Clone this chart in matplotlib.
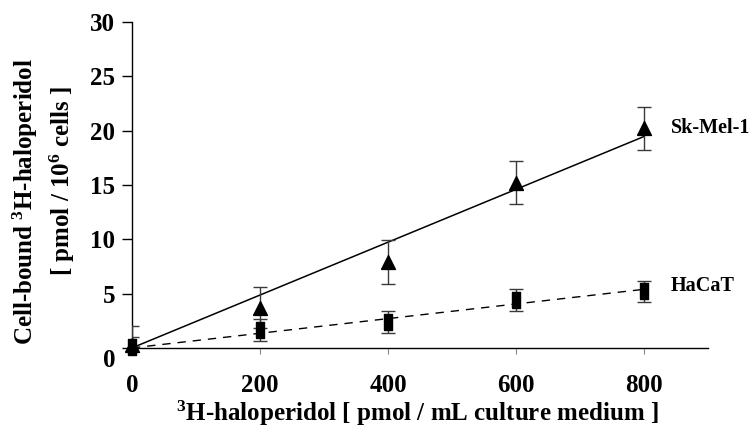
import numpy as np
import matplotlib
matplotlib.use("Agg")
import matplotlib.pyplot as plt
import matplotlib.transforms as mtransforms

# ---- data ----
conc = [0, 200, 400, 600, 800]
skmel_mean = [0.3, 3.7, 7.9, 15.2, 20.2]
skmel_err = [1.7, 1.9, 2.0, 2.0, 2.0]
hacat_mean = [0.1, 1.65, 2.4, 4.4, 5.2]
hacat_err = [0.9, 1.0, 1.0, 1.0, 1.0]
xticks = [0, 200, 400, 600, 800]
yticks = [0, 5, 10, 15, 20, 25, 30]
series_names = ["Sk-Mel-1", "HaCaT"]

plt.rcParams['font.family'] = ['Liberation Serif', 'DejaVu Serif']
plt.rcParams['font.weight'] = 'bold'
plt.rcParams['mathtext.fontset'] = 'custom'
plt.rcParams['mathtext.rm'] = 'Liberation Serif:bold'
plt.rcParams['mathtext.bf'] = 'Liberation Serif:bold'
plt.rcParams['mathtext.it'] = 'Liberation Serif:bold'

fig = plt.figure(figsize=(7.54, 4.29), dpi=100)
ax = fig.add_axes([0.175, 0.189, 0.764, 0.760])

x = np.array(conc, dtype=float)

def origin_fit(xv, yv):
    xv = np.asarray(xv, float); yv = np.asarray(yv, float)
    return (xv * yv).sum() / (xv * xv).sum()

s1 = origin_fit(conc, skmel_mean)
s2 = origin_fit(conc, hacat_mean)
xl = np.array([0, 800.0])
ax.plot(xl, s1 * xl, color='black', lw=1.1, zorder=2)
ax.plot(xl, s2 * xl, color='black', lw=1.0, ls=(0, (6, 5)), zorder=2)

tri = [(-0.5, -0.5), (0.5, -0.5), (0.0, 0.5), (-0.5, -0.5)]
rect = [(-0.27, -0.5), (0.27, -0.5), (0.27, 0.5), (-0.27, 0.5), (-0.27, -0.5)]

for mean, err in ((skmel_mean, skmel_err), (hacat_mean, hacat_err)):
    ax.errorbar(x, mean, yerr=err, fmt='none',
                ecolor='#3a3a3a', elinewidth=1.0, capsize=5, capthick=1.0, zorder=3)
ax.plot(x, hacat_mean, ls='none', marker=rect, color='black', ms=11.5, zorder=4, clip_on=False)
ax.plot(x, skmel_mean, ls='none', marker=tri, color='black', ms=10, zorder=5, clip_on=False)

ax.text(842, skmel_mean[-1], series_names[0], fontsize=14.5, fontweight='bold',
        va='center', ha='left')
ax.text(842, hacat_mean[-1] + 0.5, series_names[1], fontsize=14.5, fontweight='bold',
        va='center', ha='left')

ax.set_xlim(0, 900)
ax.set_ylim(0, 30)
ax.set_xticks(xticks)
ax.set_yticks(yticks)
ax.set_xticklabels([str(v) for v in xticks], fontsize=18, fontweight='bold')
ax.set_yticklabels([str(v) for v in yticks], fontsize=18, fontweight='bold')
ax.spines['top'].set_visible(False)
ax.spines['right'].set_visible(False)
ax.spines['left'].set_linewidth(1.0)
ax.spines['bottom'].set_linewidth(1.0)
ax.tick_params(axis='y', direction='out', length=7, width=1.0, pad=5)
ax.tick_params(axis='x', direction='out', length=4, width=0.8, color='#888888', pad=15)
for sp in ax.spines.values():
    sp.set_clip_on(False)
# the "0" y label sits a little low in the original
lbl0 = ax.get_yticklabels()[0]
lbl0.set_transform(lbl0.get_transform() +
                   mtransforms.ScaledTranslation(0, -7 / 72, fig.dpi_scale_trans))

fig.text(0.553, 0.036, r"$^{3}$H-haloperidol [ pmol / mL culture medium ]",
         fontsize=18, fontweight='bold', ha='center', va='center')
fig.text(0.034, 0.53, r"Cell-bound $^{3}$H-haloperidol", rotation=90,
         fontsize=18, fontweight='bold', ha='center', va='center')
fig.text(0.083, 0.578, r"[ pmol / 10$^{6}$ cells ]", rotation=90,
         fontsize=18, fontweight='bold', ha='center', va='center')

fig.savefig("out.png", dpi=100)
